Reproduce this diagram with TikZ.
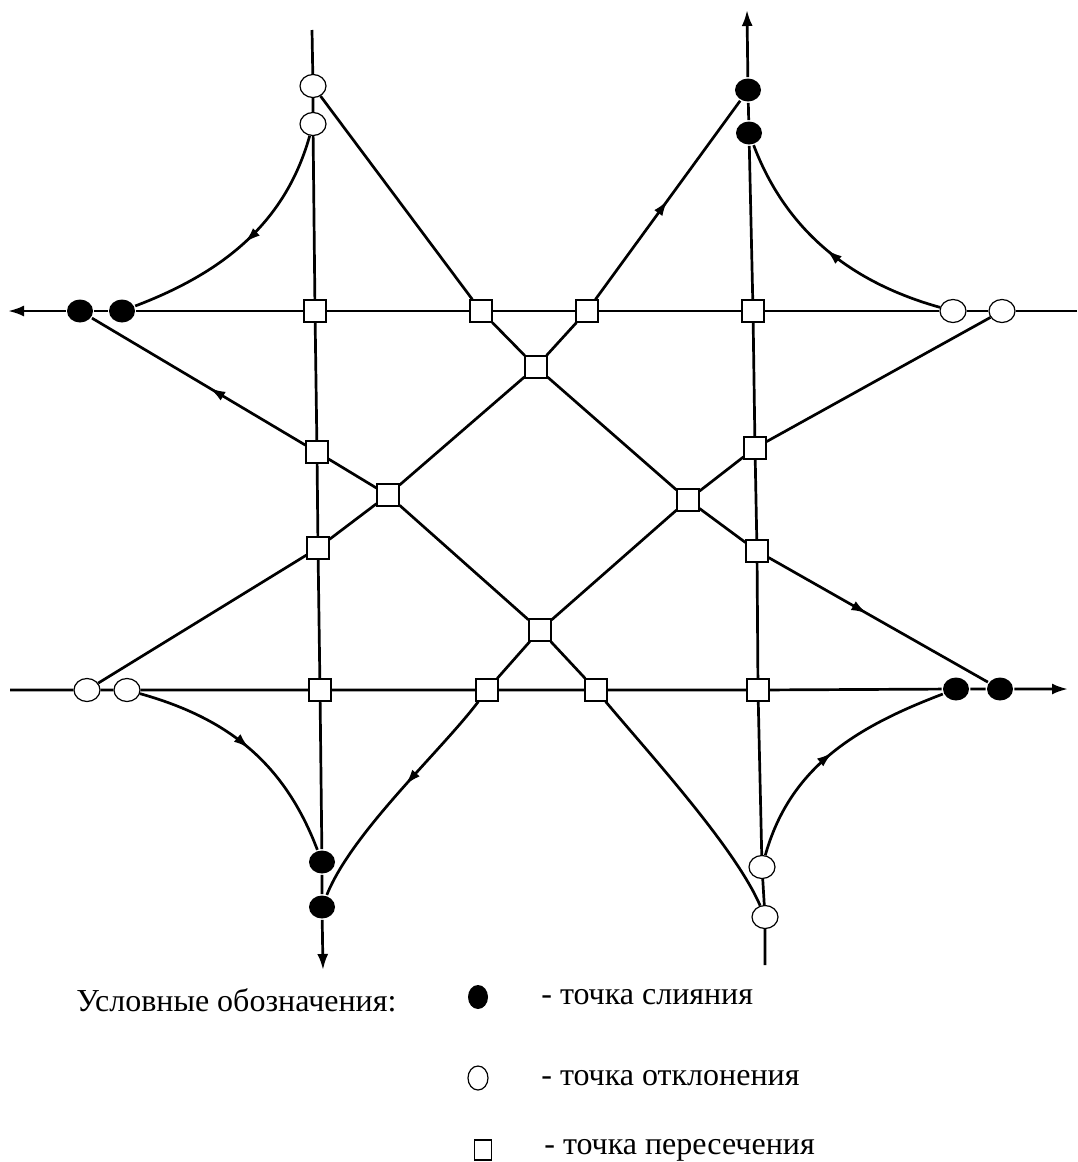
\documentclass[tikz,border=0pt]{standalone}
\usepackage{fontspec}
\setmainfont{Liberation Serif}
\usetikzlibrary{shapes.geometric,arrows.meta,decorations.markings}
\tikzset{
  merge/.style={ellipse,fill=black,minimum width=26pt,minimum height=23pt,inner sep=0pt},
  split/.style={ellipse,draw,fill=white,line width=1.2pt,minimum width=26pt,minimum height=23pt,inner sep=0pt},
  cross/.style={rectangle,draw,fill=white,line width=1.2pt,minimum size=22pt,inner sep=0pt},
  midarrow/.style={postaction={decorate},decoration={markings,mark=at position #1 with {\arrow{Latex[length=16pt,width=10pt]}}}},
  legtext/.style={anchor=west,inner sep=0pt,font=\fontsize{32}{38}\selectfont},
}
\begin{document}
\begin{tikzpicture}[x=1pt,y=-1pt,line width=2.7pt]
      \useasboundingbox (0,0) rectangle (1077,1162);
      \draw
        (80,311) node[merge] (m1){}
        (122,311) node[merge] (m2){}
        (748,90) node[merge] (m3){}
        (749,133) node[merge] (m4){}
        (956,689) node[merge] (m5){}
        (1000,689) node[merge] (m6){}
        (322,862) node[merge] (m7){}
        (322,907) node[merge] (m8){}
        (313,86) node[split] (o1){}
        (313,124) node[split] (o2){}
        (953,311) node[split] (o3){}
        (1002,311) node[split] (o4){}
        (762,867) node[split] (o5){}
        (765,917) node[split] (o6){}
        (87,690) node[split] (o7){}
        (127,690) node[split] (o8){}
        (315,311) node[cross] (s1){}
        (481,311) node[cross] (s2){}
        (587,311) node[cross] (s3){}
        (753,311) node[cross] (s4){}
        (317,452) node[cross] (s5){}
        (755,448) node[cross] (s6){}
        (318,548) node[cross] (s7){}
        (757,551) node[cross] (s8){}
        (320,690) node[cross] (s9){}
        (487,690) node[cross] (s10){}
        (596,690) node[cross] (s11){}
        (758,690) node[cross] (s12){}
        (536,367) node[cross] (c1){}
        (388,495) node[cross] (c2){}
        (688,500) node[cross] (c3){}
        (540,630) node[cross] (c4){};
      \coordinate (h1) at (1077,311);
      \coordinate (h2) at (8,311);
      \coordinate (h3) at (10,690);
      \coordinate (h4) at (1068,689);
      \coordinate (v1) at (312,30);
      \coordinate (v2) at (323,970);
      \coordinate (v3) at (765,965);
      \coordinate (v4) at (747,10);
      \begin{scope}[-]
        \draw[-{Latex[length=16pt,width=11pt]}] (h1) -- (o4) -- (o3) -- (s4) -- (s3) -- (s2) -- (s1) -- (m2) -- (m1) -- (h2);
        \draw[-{Latex[length=16pt,width=11pt]}] (h3) -- (o7) -- (o8) -- (s9) -- (s10) -- (s11) -- (s12) -- (m5) -- (m6) -- (h4);
        \draw[-{Latex[length=16pt,width=11pt]}] (v1) -- (o1) -- (o2) -- (s1) -- (s5) -- (s7) -- (s9) -- (m7) -- (m8) -- (v2);
        \draw[-{Latex[length=16pt,width=11pt]}] (v3) -- (o6) -- (o5) -- (s12) -- (s8) -- (s6) -- (s4) -- (m4) -- (m3) -- (v4);
        \draw (o1) to (s2);
        \draw (s2) to (c1);
        \draw (c1) to (c3);
        \draw (c3) to (s8);
        \draw[midarrow=0.45] (s8) to (m6);
        \draw (o6) .. controls +(-30,-70) and +(50,60) .. (s11);
        \draw (s11) to (c4);
        \draw (c4) to (c2);
        \draw (c2) to (s5);
        \draw[midarrow=0.45] (s5) to (m1);
        \draw (o7) to (s7);
        \draw (s7) to (c2);
        \draw (c2) to (c1);
        \draw (c1) to (s3);
        \draw[midarrow=0.5] (s3) to (m3);
        \draw (o4) to (s6);
        \draw (s6) to (c3);
        \draw (c3) to (c4);
        \draw (c4) to (s10);
        \draw[midarrow=0.45] (s10) .. controls +(-45,60) and +(30,-75) .. (m8);
        \draw[midarrow=0.5] (o2) .. controls +(-28,100) and +(100,-38) .. (m2);
        \draw[midarrow=0.5] (o8) .. controls +(100,28) and +(-38,-100) .. (m7);
        \draw[midarrow=0.5] (o5) .. controls +(28,-100) and +(-100,38) .. (m5);
        \draw[midarrow=0.5] (o3) .. controls +(-100,-28) and +(38,100) .. (m4);
      \end{scope}
      \node[legtext] (l0) at (75,1000) {Условные обозначения:};
      \node[merge,minimum width=20pt,minimum height=24pt] (l1) at (478,997) {};
      \node[legtext] (t1) at (540,997) {- точка слияния};
      \node[split,minimum width=20pt,minimum height=24pt] (l2) at (478,1078) {};
      \node[legtext] (t2) at (540,1078) {- точка отклонения};
      \node[cross,minimum width=17pt,minimum height=20pt] (l3) at (483,1150) {};
      \node[legtext] (t3) at (543,1150) {- точка пересечения};
    \end{tikzpicture}
\end{document}
